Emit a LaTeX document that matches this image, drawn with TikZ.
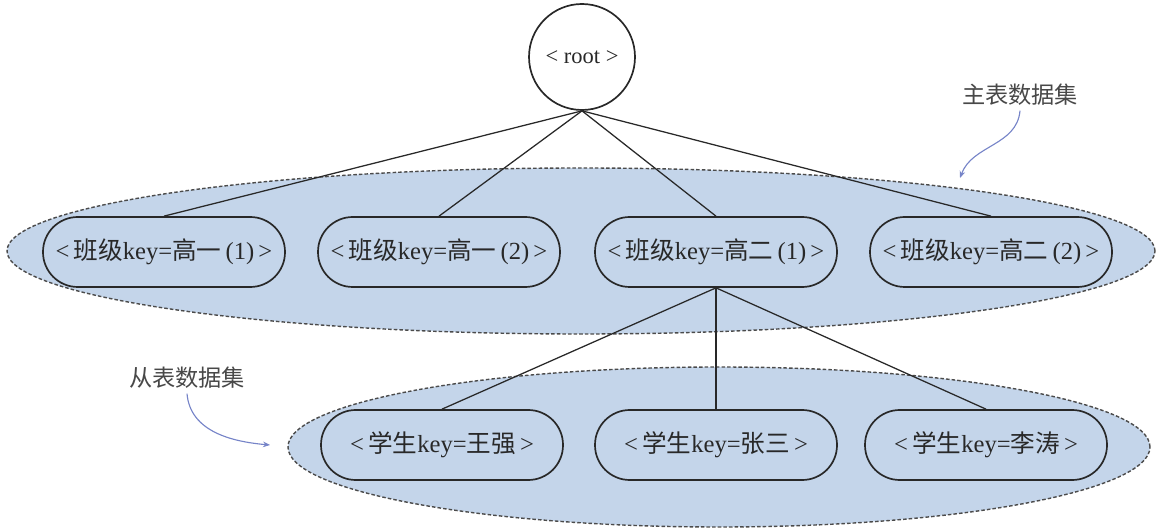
\documentclass[tikz,border=0pt]{standalone}
\usepackage{fontspec}
\usepackage{xcolor}
\setmainfont{Liberation Serif}
\newfontfamily\cjkfont{Noto Sans CJK SC}
\newcommand{\zh}[1]{{\cjkfont #1}}
\usetikzlibrary{shapes.geometric,arrows.meta}

\definecolor{setfill}{RGB}{196,213,234}
\definecolor{setedge}{RGB}{75,75,75}
\definecolor{inkgray}{RGB}{40,40,40}
\definecolor{pointer}{RGB}{118,132,200}

\begin{document}
\begin{tikzpicture}[
    dataset/.style={ellipse, draw=setedge, dash pattern=on 2.5pt off 1.5pt, fill=setfill, line width=1pt, inner sep=0pt},
    keynode/.style={rectangle, rounded corners=0.87cm, draw=inkgray, line width=1.2pt, minimum width=6.05cm, minimum height=1.75cm, inner sep=0pt, text=inkgray, font=\fontsize{17.5}{20}\selectfont},
    setlabel/.style={text=inkgray!85, font=\fontsize{16.5}{20}\selectfont\cjkfont},
    pointer/.style={draw=pointer, line width=0.8pt, -{Stealth[length=5pt,width=4pt]}},
    link/.style={draw=inkgray, line width=0.9pt}
  ]
          \useasboundingbox (0,0) rectangle (28.95,13.25);

          \node[dataset, minimum width=28.7cm, minimum height=4.15cm] (mainset) at (14.525,6.975) {};
          \node[dataset, minimum width=21.55cm, minimum height=4.0cm] (subset) at (17.975,2.075) {};

          \node[circle, draw=inkgray, line width=1.2pt, minimum size=2.65cm, inner sep=0pt, text=inkgray, font=\fontsize{16}{19}\selectfont] (root) at (14.55,11.825) {<\ root\ >};

          \node[keynode] (c1) at (4.1,6.95) {<\,\zh{班级}key=\zh{高一}\,(1)\,>};
          \node[keynode] (c2) at (10.975,6.95) {<\,\zh{班级}key=\zh{高一}\,(2)\,>};
          \node[keynode] (c3) at (17.9,6.95) {<\,\zh{班级}key=\zh{高二}\,(1)\,>};
          \node[keynode] (c4) at (24.775,6.95) {<\,\zh{班级}key=\zh{高二}\,(2)\,>};

          \node[keynode] (s1) at (11.05,2.125) {<\,\zh{学生}key=\zh{王强}\,>};
          \node[keynode] (s2) at (17.9,2.125) {<\,\zh{学生}key=\zh{张三}\,>};
          \node[keynode] (s3) at (24.65,2.125) {<\,\zh{学生}key=\zh{李涛}\,>};

          \node[setlabel] (mainlabel) at (25.5,10.875) {主表数据集};
          \node[setlabel] (sublabel) at (4.675,3.8) {从表数据集};

          \coordinate (maintip) at (24.0,8.8);
          \coordinate (subtip) at (6.75,2.125);

          \draw[link] (root.south) -- (c1.north);
          \draw[link] (root.south) -- (c2.north);
          \draw[link] (root.south) -- (c3.north);
          \draw[link] (root.south) -- (c4.north);
          \draw[link] (c3.south) -- (s1.north);
          \draw[link] (c3.south) -- (s2.north);
          \draw[link] (c3.south) -- (s3.north);

          \draw[pointer] (mainlabel.south) to[out=-95, in=70] (maintip);
          \draw[pointer] (sublabel.south) to[out=-85, in=175] (subtip);
        \end{tikzpicture}
\end{document}
